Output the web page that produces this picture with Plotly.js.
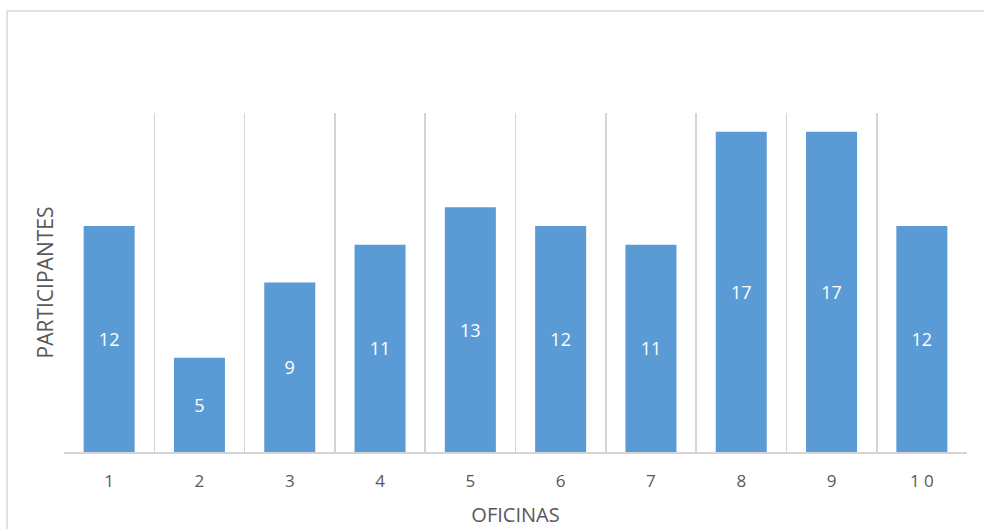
<!DOCTYPE html>
<html>
<head>
<meta charset="utf-8">
<script src="https://cdn.plot.ly/plotly-3.0.1.min.js"></script>
<style>html,body{margin:0;padding:0;background:#fff;}#chart{width:984px;height:529px;}</style>
</head>
<body>
<div id="chart"></div>
<script>
const categories = ["1","2","3","4","5","6","7","8","9","10"];
const tickLabels = ["1","2","3","4","5","6","7","8","9","1 0"];
const participantes = [12, 5, 9, 11, 13, 12, 11, 17, 17, 12];
const xTitle = "OFICINAS";
const yTitle = "PARTICIPANTES";

const FONT = "'Open Sans', 'Noto Sans', sans-serif";

const trace = {
  type: "bar",
  x: categories,
  y: participantes,
  marker: {color: "#5B9BD5"},
  text: participantes.map(String),
  textposition: "inside",
  insidetextanchor: "middle",
  textangle: 0,
  textfont: {color: "#ffffff", size: 18, family: FONT},
  hoverinfo: "none"
};

const layout = {
  width: 984, height: 529,
  margin: {l: 64, r: 17, t: 113, b: 77, pad: 0},
  paper_bgcolor: "#ffffff", plot_bgcolor: "#ffffff",
  bargap: 0.435,
  showlegend: false,
  font: {family: FONT, color: "#595959"},
  xaxis: {
    type: "category",
    tickson: "boundaries",
    tickmode: "array",
    tickvals: categories,
    ticktext: tickLabels,
    ticks: "",
    showgrid: true, gridcolor: "#d4d4d4", gridwidth: 1.6,
    showline: true, linecolor: "#d4d4d4", linewidth: 1.6,
    tickfont: {size: 17, color: "#595959", family: FONT},
    ticklabelstandoff: 13,
    title: {text: xTitle, font: {size: 20, color: "#595959", family: FONT}, standoff: 17},
    automargin: false,
    zeroline: false
  },
  yaxis: {
    range: [0, 18],
    showgrid: false, zeroline: false, showline: false,
    showticklabels: false, ticks: "",
    title: {text: yTitle, font: {size: 21, color: "#595959", family: FONT}, standoff: 3},
    automargin: false
  },
  shapes: [{
    type: "rect", xref: "paper", yref: "paper",
    x0: -0.063, x1: 1.05, y0: -0.3, y1: 1.301,
    line: {color: "#d9d9d9", width: 1.5},
    fillcolor: "rgba(0,0,0,0)",
    layer: "below"
  }]
};

Plotly.newPlot("chart", [trace], layout, {displayModeBar: false, staticPlot: true});
</script>
</body>
</html>
